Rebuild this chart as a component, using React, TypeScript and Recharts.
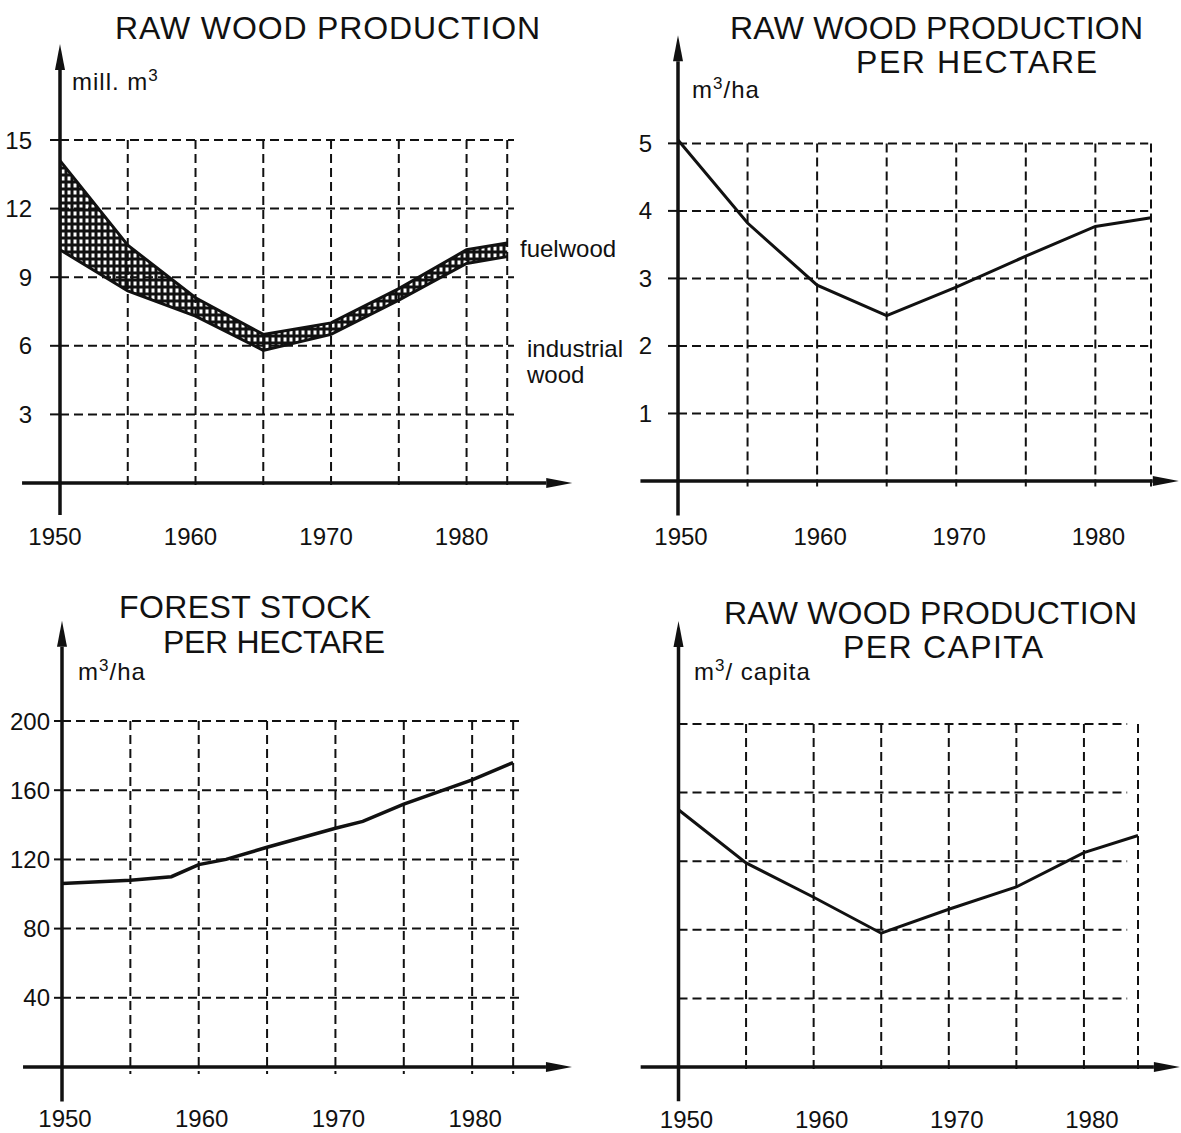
import React from 'react'
import { ComposedChart, Line, Area, XAxis, YAxis, ReferenceLine } from 'recharts'

// raw wood production, mill. m3
const prodYears = [1950, 1955, 1960, 1965, 1970, 1975, 1980, 1983]
const industrialWood = [10.2, 8.4, 7.3, 5.8, 6.5, 8.0, 9.6, 9.9]
const totalWood = [14.1, 10.4, 8.1, 6.5, 7.0, 8.5, 10.2, 10.5]

// raw wood production per hectare, m3/ha
const hectareYears = [1950, 1955, 1960, 1965, 1970, 1975, 1980, 1984]
const prodPerHectare = [5.05, 3.82, 2.9, 2.45, 2.87, 3.33, 3.77, 3.9]

// forest stock per hectare, m3/ha
const stockYears = [1950, 1955, 1958, 1960, 1962, 1965, 1970, 1972, 1975, 1980, 1983]
const stockPerHectare = [106, 108, 110, 117, 120, 127, 138, 142, 152, 166, 176]

// raw wood production per capita, m3/capita (no values on the axis in the source)
const capitaYears = [1950, 1955, 1960, 1965, 1970, 1975, 1980, 1984]
const prodPerCapita = [0.75, 0.595, 0.495, 0.39, 0.46, 0.525, 0.625, 0.675]

const yearTicks = [1950, 1960, 1970, 1980]
const prodTicks = [3, 6, 9, 12, 15]
const hectareTicks = [1, 2, 3, 4, 5]
const stockTicks = [40, 80, 120, 160, 200]
const capitaTicks = [0.2, 0.4, 0.6, 0.8, 1.0]
const gridYearsLeft = [1955, 1960, 1965, 1970, 1975, 1980, 1983]
const gridYearsRight = [1955, 1960, 1965, 1970, 1975, 1980, 1984]

const prodData = prodYears.map((year, i) => ({ year, industrial: industrialWood[i], total: totalWood[i] }))
const hectareData = hectareYears.map((year, i) => ({ year, value: prodPerHectare[i] }))
const stockData = stockYears.map((year, i) => ({ year, value: stockPerHectare[i] }))
const capitaData = capitaYears.map((year, i) => ({ year, value: prodPerCapita[i] }))

const INK = '#111'
const FONT = '"Liberation Sans", Arial, sans-serif'

// axis line with a filled arrow head at the second point of the segment
const ArrowLine = (props: any) => {
  const { x1, y1, x2, y2 } = props
  const dx = x2 - x1
  const dy = y2 - y1
  const len = Math.hypot(dx, dy) || 1
  const ux = dx / len
  const uy = dy / len
  const bx = x2 - ux * 26
  const by = y2 - uy * 26
  const px = -uy * 5
  const py = ux * 5
  return (
    <g>
      <line x1={x1} y1={y1} x2={bx} y2={by} stroke={INK} strokeWidth={3.5} />
      <polygon points={`${x2},${y2} ${bx + px},${by + py} ${bx - px},${by - py}`} fill={INK} />
    </g>
  )
}

type PanelProps = {
  left: number
  top: number
  width: number
  height: number
  margin: { top: number; right: number; bottom: number; left: number }
  data: any[]
  xEnd: number
  hGridEnd: number
  yMax: number
  yTicks: number[]
  gridYears: number[]
  axisX: [number, number]
  axisY: [number, number]
  tickBelow: number
  yTickSize: number
  yTickMargin: number
  showYLabels: boolean
  xTickMargin: number
  xTickDx: number
  children?: React.ReactNode
}

const Panel = (p: PanelProps) => (
  <div style={{ position: 'absolute', left: p.left, top: p.top }}>
    <ComposedChart width={p.width} height={p.height} data={p.data} margin={p.margin}>
      <defs>
        <pattern id="checks" width="6" height="7" patternUnits="userSpaceOnUse">
          <rect width="6" height="7" fill={INK} />
          <rect x="1.5" y="1.5" width="3" height="4" fill="#fff" />
        </pattern>
      </defs>
      <XAxis
        type="number"
        dataKey="year"
        domain={[1950, p.xEnd]}
        ticks={yearTicks}
        interval={0}
        axisLine={false}
        tickLine={false}
        tickSize={0}
        tickMargin={p.xTickMargin}
        height={40}
        tick={{ fill: INK, fontSize: 24, fontFamily: FONT, dx: p.xTickDx }}
      />
      <YAxis
        type="number"
        domain={[0, p.yMax]}
        ticks={p.yTicks}
        interval={0}
        width={30}
        axisLine={false}
        tickLine={{ stroke: INK, strokeWidth: 2 }}
        tickSize={p.yTickSize}
        tickMargin={p.yTickMargin}
        tick={p.showYLabels ? { fill: INK, fontSize: 24, fontFamily: FONT } : false}
      />
      {p.yTicks.map((v) => (
        <ReferenceLine
          key={'h' + v}
          segment={[{ x: 1950, y: v }, { x: p.hGridEnd, y: v }]}
          ifOverflow="visible"
          stroke={INK}
          strokeWidth={2}
          strokeDasharray="9 5"
        />
      ))}
      {p.gridYears.map((yr) => (
        <ReferenceLine
          key={'v' + yr}
          segment={[{ x: yr, y: p.yMax }, { x: yr, y: p.tickBelow }]}
          ifOverflow="visible"
          stroke={INK}
          strokeWidth={2}
          strokeDasharray="9 5"
        />
      ))}
      {p.children}
      <ReferenceLine
        segment={[{ x: p.axisX[0], y: 0 }, { x: p.axisX[1], y: 0 }]}
        ifOverflow="visible"
        shape={ArrowLine}
      />
      <ReferenceLine
        segment={[{ x: 1950, y: p.axisY[0] }, { x: 1950, y: p.axisY[1] }]}
        ifOverflow="visible"
        shape={ArrowLine}
      />
    </ComposedChart>
  </div>
)

const Title = ({ x, y, w, children }: { x: number; y: number; w: number; children: string }) => (
  <text x={x} y={y} textLength={w} lengthAdjust="spacing" fontSize={32} fill={INK}>
    {children}
  </text>
)

const Unit = ({ x, y, pre, post }: { x: number; y: number; pre: string; post: string }) => (
  <text x={x} y={y} fontSize={24} fill={INK} letterSpacing={1}>
    {pre}
    <tspan fontSize={17} dy={-9}>3</tspan>
    <tspan dy={9}>{post}</tspan>
  </text>
)

export default function App() {
  return (
    <div style={{ position: 'absolute', left: 0, top: 0, width: 1181, height: 1133, background: '#fff', fontFamily: FONT }}>
      <Panel
        left={0}
        top={0}
        width={600}
        height={565}
        margin={{ top: 140, right: 86, bottom: 42, left: 30 }}
        data={prodData}
        xEnd={1983.5}
        hGridEnd={1983.5}
        yMax={15}
        yTicks={prodTicks}
        gridYears={gridYearsLeft}
        axisX={[1947.2, 1987.8]}
        axisY={[-1.4, 19.2]}
        tickBelow={-0.3}
        yTickSize={10}
        yTickMargin={18}
        showYLabels
        xTickMargin={45}
        xTickDx={-5}
      >
        <Area
          type="linear"
          dataKey={(d: any) => [d.industrial, d.total]}
          fill="url(#checks)"
          fillOpacity={1}
          stroke="none"
          isAnimationActive={false}
        />
        <Line type="linear" dataKey="total" stroke={INK} strokeWidth={3} dot={false} isAnimationActive={false} />
        <Line type="linear" dataKey="industrial" stroke={INK} strokeWidth={3} dot={false} isAnimationActive={false} />
      </Panel>

      <Panel
        left={600}
        top={0}
        width={581}
        height={565}
        margin={{ top: 140, right: 30, bottom: 44, left: 48 }}
        data={hectareData}
        xEnd={1984}
        hGridEnd={1983.8}
        yMax={5}
        yTicks={hectareTicks}
        gridYears={gridYearsRight}
        axisX={[1947.3, 1986.0]}
        axisY={[-0.51, 6.6]}
        tickBelow={-0.08}
        yTickSize={10}
        yTickMargin={16}
        showYLabels
        xTickMargin={47}
        xTickDx={3}
      >
        <Line type="linear" dataKey="value" stroke={INK} strokeWidth={3} dot={false} isAnimationActive={false} />
      </Panel>

      <Panel
        left={0}
        top={570}
        width={600}
        height={563}
        margin={{ top: 151, right: 80, bottom: 26, left: 32 }}
        data={stockData}
        xEnd={1983.5}
        hGridEnd={1983.5}
        yMax={200}
        yTicks={stockTicks}
        gridYears={gridYearsLeft}
        axisX={[1947.15, 1987.3]}
        axisY={[-20, 258]}
        tickBelow={-4}
        yTickSize={8}
        yTickMargin={4}
        showYLabels
        xTickMargin={43}
        xTickDx={3}
      >
        <Line type="linear" dataKey="value" stroke={INK} strokeWidth={3.5} dot={false} isAnimationActive={false} />
      </Panel>

      <Panel
        left={600}
        top={570}
        width={581}
        height={563}
        margin={{ top: 154, right: 43, bottom: 26, left: 48.5 }}
        data={capitaData}
        xEnd={1984}
        hGridEnd={1983.2}
        yMax={1.0}
        yTicks={capitaTicks}
        gridYears={gridYearsRight}
        axisX={[1947.2, 1987.1]}
        axisY={[-0.1, 1.3]}
        tickBelow={-0.02}
        yTickSize={8}
        yTickMargin={4}
        showYLabels={false}
        xTickMargin={44}
        xTickDx={8}
      >
        <Line type="linear" dataKey="value" stroke={INK} strokeWidth={3} dot={false} isAnimationActive={false} />
      </Panel>

      <svg
        width={1181}
        height={1133}
        style={{ position: 'absolute', left: 0, top: 0, pointerEvents: 'none' }}
        fontFamily={FONT}
      >
        <Title x={115} y={39} w={425}>RAW WOOD PRODUCTION</Title>
        <Title x={730} y={39} w={413}>RAW WOOD PRODUCTION</Title>
        <Title x={856} y={73} w={241}>PER HECTARE</Title>
        <Title x={119} y={618} w={252}>FOREST STOCK</Title>
        <Title x={163} y={653} w={222}>PER HECTARE</Title>
        <Title x={724} y={624} w={413}>RAW WOOD PRODUCTION</Title>
        <Title x={843} y={658} w={200}>PER CAPITA</Title>

        <Unit x={72} y={90} pre="mill. m" post="" />
        <Unit x={692} y={98} pre="m" post="/ha" />
        <Unit x={78} y={680} pre="m" post="/ha" />
        <Unit x={694} y={680} pre="m" post="/ capita" />

        <text x={520} y={257} fontSize={24} fill={INK}>fuelwood</text>
        <text x={527} y={357} fontSize={24} fill={INK}>industrial</text>
        <text x={527} y={383} fontSize={24} fill={INK}>wood</text>
      </svg>
    </div>
  )
}
